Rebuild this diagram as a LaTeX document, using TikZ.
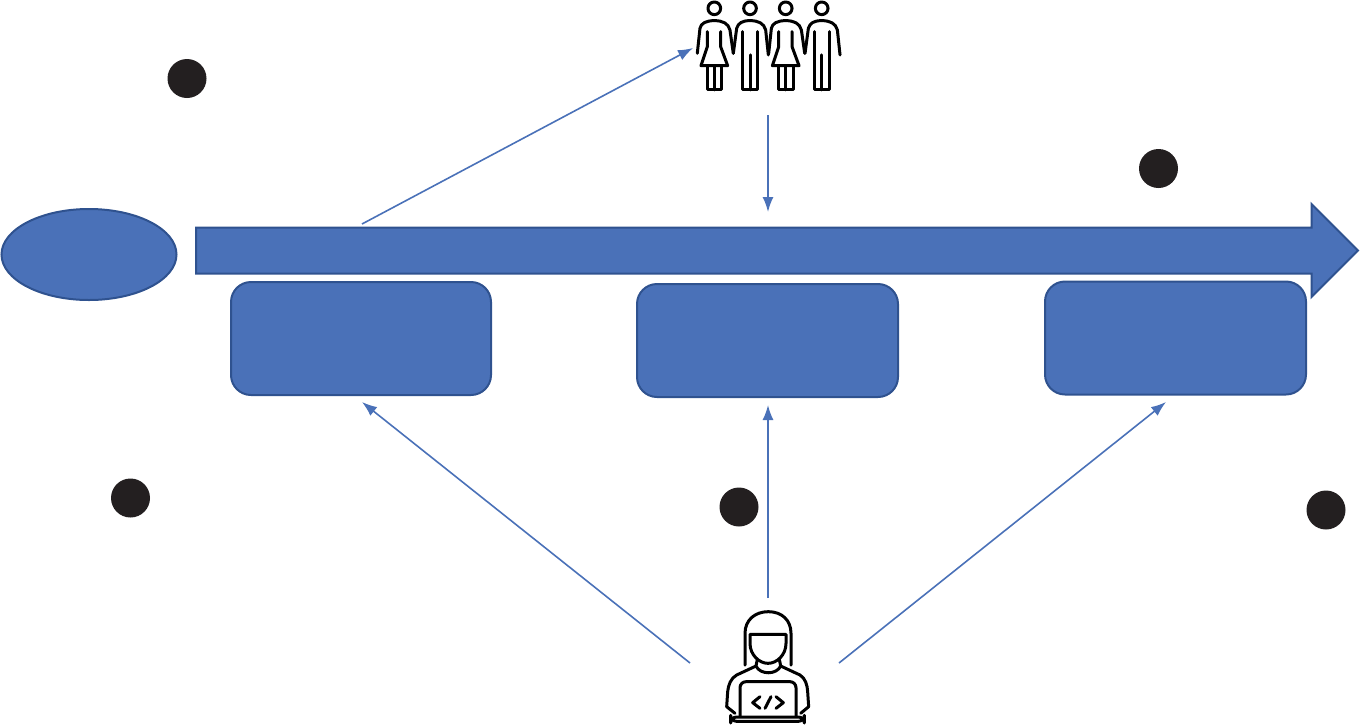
\documentclass[tikz,border=0pt]{standalone}
\usepackage{tikz}
\usetikzlibrary{
	arrows.meta,
	shapes.geometric,
	shapes.arrows
}
\definecolor{azul}{HTML}{4A71B8}
\definecolor{borda}{HTML}{2F528F}
\definecolor{ponto}{HTML}{231F20}

\tikzset{
	mulher/.pic={
		\draw[icone] (0,0) circle (19);
		\draw[icone] (-51,135) -- (-43,60) .. controls (-40,45) and (-25,37) .. (0,37) .. controls (25,37) and (42,45) .. (47,65) -- (57,135);
		\draw[icone] (-21,70) -- (-21,115) -- (-40,172) -- (40,172) -- (19,115) -- (19,70);
		\draw[icone] (-21,172) -- (-21,245) -- (22,245) -- (22,172);
		\draw[icone] (0,172) -- (0,245);
	},
	homem/.pic={
		\draw[icone] (0,0) circle (19);
		\draw[icone] (-50,135) -- (-40,60) .. controls (-35,45) and (-25,37) .. (0,37) .. controls (25,37) and (42,45) .. (47,65) -- (55,140);
		\draw[icone] (-22,70) -- (-22,245) -- (22,245) -- (22,70);
		\draw[icone] (0,140) -- (0,245);
	},
	devs/.pic={
		\draw[icone] (105,195) -- (105,100) .. controls (105,60) and (135,35) .. (175,35) .. controls (215,35) and (243,60) .. (243,100) -- (243,195);
		\draw[icone] (120,103) -- (228,103) -- (228,130) .. controls (228,165) and (200,190) .. (174,190) .. controls (148,190) and (120,165) .. (120,130) -- cycle;
		\draw[icone] (142,178) -- (138,198) .. controls (150,225) and (200,225) .. (212,198) -- (208,178);
		\draw[icone] (138,198) -- (80,225) .. controls (62,235) and (55,255) .. (53,275) -- (50,320) -- (75,340);
		\draw[icone] (212,198) -- (270,225) .. controls (286,235) and (292,255) .. (293,275) -- (296,320) -- (272,340);
		\draw[icone, rounded corners=6] (90,350) -- (90,245) -- (258,245) -- (258,350);
		\draw[icone, rounded corners=6] (62,351) -- (283,351) -- (283,364) -- (62,364) -- cycle;
		\draw[icone] (150,290) -- (128,308) -- (150,325);
		\draw[icone] (165,325) -- (183,290);
		\draw[icone] (198,290) -- (220,308) -- (198,325);
	}
}

\begin{document}
\begin{tikzpicture}[
			x=1pt, y=-1pt,
			>=Latex,
			bloco/.style={draw=borda, fill=azul, line width=2pt, rounded corners=20pt, inner sep=0pt},
			elipse/.style={draw=borda, fill=azul, line width=2pt, ellipse, inner sep=0pt, minimum width=175pt, minimum height=91pt},
			seta/.style={draw=borda, fill=azul, line width=2pt, single arrow, outer sep=0pt, inner xsep=0pt, inner ysep=22pt, single arrow head extend=23.5pt, single arrow tip angle=90, minimum width=91pt, minimum height=1162pt, anchor=tail},
			ponto/.style={circle, fill=ponto, inner sep=0pt, minimum size=39pt},
			icone/.style={draw=black, line width=3pt, line join=round, line cap=round},
			fl/.style={->, draw=azul, line width=1.6pt, arrows={-Latex[length=15pt,width=11pt]}}
		]

		\useasboundingbox (0,0) rectangle (1360,724);

		\node[elipse] (inicio) at (89,254.5) {};
		\node[seta] (tempo) at (196,250.5) {};

		\node[bloco, minimum width=260pt, minimum height=113pt] (blocoA) at (361,338.5) {};
		\node[bloco, minimum width=261pt, minimum height=113pt] (blocoB) at (767.5,340.5) {};
		\node[bloco, minimum width=261pt, minimum height=113pt] (blocoC) at (1175.5,338) {};

		\node[ponto] (pontoA) at (187,78.5) {};
		\node[ponto] (pontoB) at (1158.5,168.5) {};
		\node[ponto] (pontoC) at (130.5,498) {};
		\node[ponto] (pontoD) at (739,507) {};
		\node[ponto] (pontoE) at (1326,510) {};

		\pic[scale=1/3] (m1) at (714.3,8.3) {mulher};
		\pic[scale=1/3] (h1) at (750,8.3) {homem};
		\pic[scale=1/3] (m2) at (785.7,8.3) {mulher};
		\pic[scale=1/3] (h2) at (821.7,8.3) {homem};
		\pic[scale=1/3] (dev) at (710,600) {devs};

		\coordinate (saidaTempo) at (362,224);
		\coordinate (chegaGrupo) at (693,48);
		\coordinate (saidaGrupo) at (768,115);
		\coordinate (chegaTempo) at (768,212);
		\coordinate (saidaDevA) at (690,663);
		\coordinate (saidaDevB) at (768,598);
		\coordinate (saidaDevC) at (839,663);
		\coordinate (chegaA) at (362,402);
		\coordinate (chegaB) at (768,405);
		\coordinate (chegaC) at (1166,402);

		\draw[fl] (saidaTempo) -- (chegaGrupo);
		\draw[fl] (saidaGrupo) -- (chegaTempo);
		\draw[fl] (saidaDevA) -- (chegaA);
		\draw[fl] (saidaDevB) -- (chegaB);
		\draw[fl] (saidaDevC) -- (chegaC);
	\end{tikzpicture}
\end{document}
